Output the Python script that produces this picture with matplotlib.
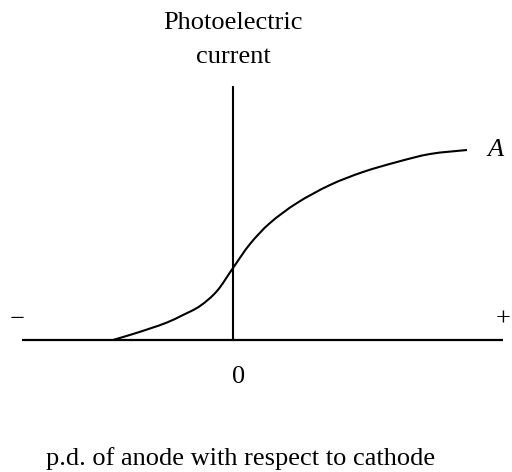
import matplotlib
matplotlib.use("Agg")
import matplotlib.pyplot as plt
from matplotlib.path import Path
from matplotlib.patches import PathPatch

# Curve (arbitrary units: p.d. vs photoelectric current)
voltage = [-1.20, -1.00, -0.83, -0.66, -0.50, -0.33, -0.16, 0.00,
           0.17, 0.37, 0.64, 0.97, 1.30, 1.64, 1.97, 2.34]
current = [0.00, 0.06, 0.115, 0.175, 0.25, 0.34, 0.49, 0.72,
           0.96, 1.17, 1.37, 1.55, 1.68, 1.78, 1.86, 1.90]

axis_x = [-2.11, 2.70]
axis_top = 2.54

plt.rcParams['font.family'] = ['Liberation Serif', 'DejaVu Serif']

fig = plt.figure(figsize=(5.12, 4.72), dpi=100)
ax = fig.add_axes([0, 0, 1, 1])
ax.set_xlim(-2.33, 2.79)
ax.set_ylim(-1.32, 3.40)
ax.axis('off')

ax.plot(axis_x, [0, 0], color='black', lw=1.6, solid_capstyle='butt')
ax.plot([0, 0], [0, axis_top], color='black', lw=1.5, solid_capstyle='butt')

# smooth curve through the read points (Catmull-Rom as cubic Bezier segments)
pts = list(zip(voltage, current))
n = len(pts)
verts = [pts[0]]
codes = [Path.MOVETO]
for i in range(n - 1):
    p0 = pts[i - 1] if i > 0 else pts[i]
    p1 = pts[i]
    p2 = pts[i + 1]
    p3 = pts[i + 2] if i + 2 < n else pts[i + 1]
    c1 = (p1[0] + (p2[0] - p0[0]) / 6, p1[1] + (p2[1] - p0[1]) / 6)
    c2 = (p2[0] - (p3[0] - p1[0]) / 6, p2[1] - (p3[1] - p1[1]) / 6)
    verts += [c1, c2, p2]
    codes += [Path.CURVE4] * 3
ax.add_patch(PathPatch(Path(verts, codes), facecolor='none',
                       edgecolor='black', lw=1.5))

fs = 19
ax.text(0, 3.11, 'Photoelectric', ha='center', va='baseline', fontsize=fs)
ax.text(0, 2.77, 'current', ha='center', va='baseline', fontsize=fs)
ax.text(0.06, -0.37, '0', ha='center', va='center', fontsize=fs)
ax.text(0.08, -1.25, 'p.d. of anode with respect to cathode', ha='center',
        va='baseline', fontsize=fs)
ax.text(-2.16, 0.20, '\u2212', ha='center', va='center', fontsize=fs)
ax.text(2.70, 0.20, '+', ha='center', va='center', fontsize=fs)
ax.text(2.63, 1.90, 'A', ha='center', va='center', fontsize=fs, style='italic')

fig.savefig('out.png', dpi=100)
